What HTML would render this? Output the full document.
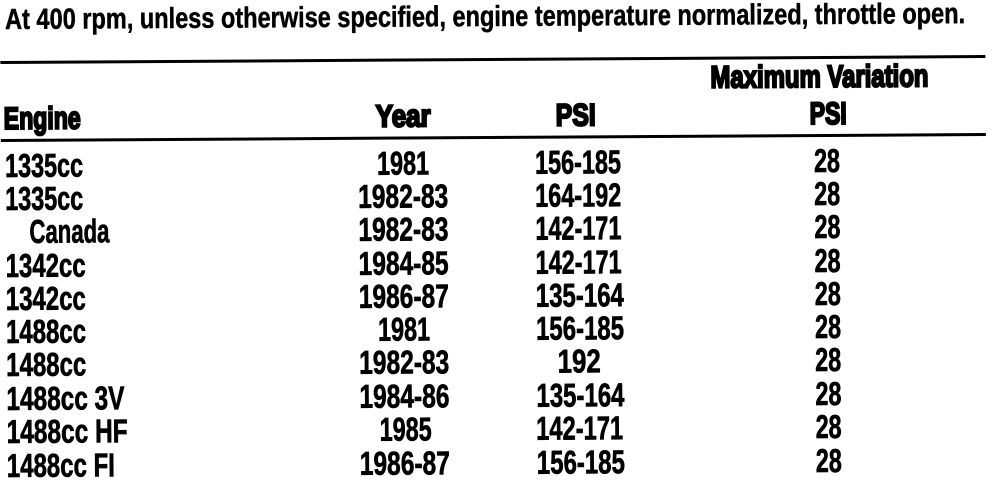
<!DOCTYPE html>
<html><head><meta charset="utf-8"><style>
html,body{margin:0;padding:0;background:#fff;}
svg{display:block;}
text{font-family:"Liberation Sans",Arial,sans-serif;font-weight:bold;fill:#000;}
.h{stroke:#000;stroke-width:2.2px;}
.d{font-size:33px;stroke:#000;stroke-width:0.7px;}
.t{font-size:29px;stroke:#000;stroke-width:0.5px;}
</style></head><body>
<svg width="1008" height="480" viewBox="0 0 1008 480" xmlns="http://www.w3.org/2000/svg">
<g transform="rotate(-0.35)">
<text class="t" x="5" y="29" textLength="960" lengthAdjust="spacingAndGlyphs">At 400 rpm, unless otherwise specified, engine temperature normalized, throttle open.</text>
<rect x="0" y="61" width="985" height="3"/>
<text class="h" x="3" y="129" font-size="31" textLength="77" lengthAdjust="spacingAndGlyphs">Engine</text>
<text class="h" x="375" y="129" font-size="31" textLength="55" lengthAdjust="spacingAndGlyphs">Year</text>
<text class="h" x="555" y="129" font-size="31" textLength="40" lengthAdjust="spacingAndGlyphs">PSI</text>
<text class="h" x="710" y="92" font-size="31" textLength="218" lengthAdjust="spacingAndGlyphs">Maximum Variation</text>
<text class="h" x="809" y="129" font-size="31" textLength="37" lengthAdjust="spacingAndGlyphs">PSI</text>
<rect x="0" y="139" width="985" height="3"/>
<g class="d">
<text x="4" y="177" textLength="78" lengthAdjust="spacingAndGlyphs">1335cc</text>
<text x="4" y="210" textLength="78" lengthAdjust="spacingAndGlyphs">1335cc</text>
<text x="28" y="243" textLength="80" lengthAdjust="spacingAndGlyphs">Canada</text>
<text x="4" y="277" textLength="80" lengthAdjust="spacingAndGlyphs">1342cc</text>
<text x="4" y="310" textLength="80" lengthAdjust="spacingAndGlyphs">1342cc</text>
<text x="4" y="343" textLength="80" lengthAdjust="spacingAndGlyphs">1488cc</text>
<text x="4" y="376" textLength="80" lengthAdjust="spacingAndGlyphs">1488cc</text>
<text x="4" y="410" textLength="118" lengthAdjust="spacingAndGlyphs">1488cc 3V</text>
<text x="4" y="443" textLength="121" lengthAdjust="spacingAndGlyphs">1488cc HF</text>
<text x="4" y="477" textLength="108" lengthAdjust="spacingAndGlyphs">1488cc FI</text>
</g>
<g class="d" text-anchor="middle">
<text x="402" y="177" textLength="52" lengthAdjust="spacingAndGlyphs">1981</text>
<text x="402" y="210" textLength="90" lengthAdjust="spacingAndGlyphs">1982-83</text>
<text x="402" y="243" textLength="90" lengthAdjust="spacingAndGlyphs">1982-83</text>
<text x="402" y="277" textLength="90" lengthAdjust="spacingAndGlyphs">1984-85</text>
<text x="402" y="310" textLength="90" lengthAdjust="spacingAndGlyphs">1986-87</text>
<text x="402" y="343" textLength="52" lengthAdjust="spacingAndGlyphs">1981</text>
<text x="402" y="376" textLength="90" lengthAdjust="spacingAndGlyphs">1982-83</text>
<text x="402" y="410" textLength="90" lengthAdjust="spacingAndGlyphs">1984-86</text>
<text x="403" y="443" textLength="52" lengthAdjust="spacingAndGlyphs">1985</text>
<text x="402" y="477" textLength="90" lengthAdjust="spacingAndGlyphs">1986-87</text>

<text x="577" y="177" textLength="86" lengthAdjust="spacingAndGlyphs">156-185</text>
<text x="577" y="210" textLength="86" lengthAdjust="spacingAndGlyphs">164-192</text>
<text x="577" y="243" textLength="86" lengthAdjust="spacingAndGlyphs">142-171</text>
<text x="577" y="277" textLength="86" lengthAdjust="spacingAndGlyphs">142-171</text>
<text x="578" y="310" textLength="88" lengthAdjust="spacingAndGlyphs">135-164</text>
<text x="578" y="343" textLength="88" lengthAdjust="spacingAndGlyphs">156-185</text>
<text x="577" y="376" textLength="43" lengthAdjust="spacingAndGlyphs">192</text>
<text x="578" y="410" textLength="88" lengthAdjust="spacingAndGlyphs">135-164</text>
<text x="577" y="443" textLength="87" lengthAdjust="spacingAndGlyphs">142-171</text>
<text x="578" y="477" textLength="88" lengthAdjust="spacingAndGlyphs">156-185</text>

<text x="826" y="177" textLength="26" lengthAdjust="spacingAndGlyphs">28</text>
<text x="826" y="210" textLength="26" lengthAdjust="spacingAndGlyphs">28</text>
<text x="826" y="243" textLength="26" lengthAdjust="spacingAndGlyphs">28</text>
<text x="826" y="277" textLength="26" lengthAdjust="spacingAndGlyphs">28</text>
<text x="826" y="310" textLength="26" lengthAdjust="spacingAndGlyphs">28</text>
<text x="826" y="343" textLength="26" lengthAdjust="spacingAndGlyphs">28</text>
<text x="826" y="376" textLength="26" lengthAdjust="spacingAndGlyphs">28</text>
<text x="826" y="410" textLength="26" lengthAdjust="spacingAndGlyphs">28</text>
<text x="826" y="443" textLength="26" lengthAdjust="spacingAndGlyphs">28</text>
<text x="826" y="477" textLength="26" lengthAdjust="spacingAndGlyphs">28</text>
</g>
</g>
</svg>
</body></html>
